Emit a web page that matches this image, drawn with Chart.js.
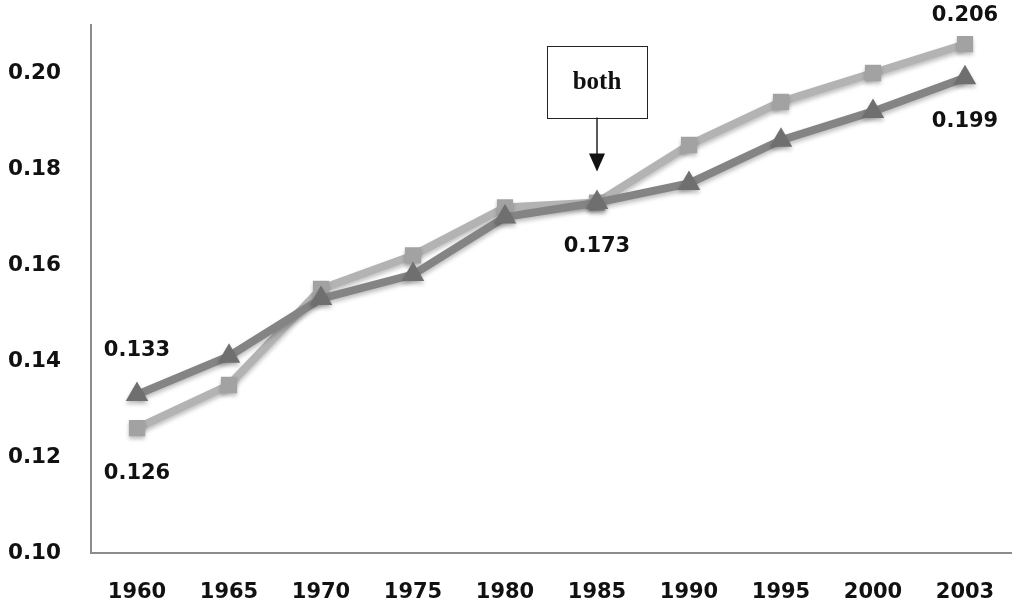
<!DOCTYPE html>
<html>
<head>
<meta charset="utf-8">
<script src="https://cdn.jsdelivr.net/npm/chart.js@4.4.0/dist/chart.umd.min.js"></script>
<style>
html,body{margin:0;padding:0;background:#fff;}
#wrap{width:1024px;height:608px;position:relative;}
</style>
</head>
<body>
<div id="wrap"><canvas id="c" width="1024" height="608"></canvas></div>
<script>
const categories = ['1960','1965','1970','1975','1980','1985','1990','1995','2000','2003'];
const squareValues = [0.126,0.135,0.155,0.162,0.172,0.173,0.185,0.194,0.200,0.206];
const triangleValues = [0.133,0.141,0.153,0.158,0.170,0.173,0.177,0.186,0.192,0.199];
const yTicks = [0.10,0.12,0.14,0.16,0.18,0.20];
const squareLabels = ['0.126',null,null,null,null,null,null,null,null,'0.206'];
const triangleLabels = ['0.133',null,null,null,null,'0.173',null,null,null,'0.199'];
const annotationText = 'both';
const annotationIndex = 5;

const FONT = '"DejaVu Sans", sans-serif';

const labelPlugin = {
  id: 'valueLabels',
  afterDatasetsDraw(chart) {
    const ctx = chart.ctx;
    ctx.save();
    ctx.font = 'bold 21px ' + FONT;
    ctx.fillStyle = '#111';
    ctx.textAlign = 'center';
    ctx.textBaseline = 'middle';
    const sq = chart.getDatasetMeta(1);
    const tr = chart.getDatasetMeta(0);
    squareLabels.forEach((t, i) => {
      if (!t) return;
      const p = sq.data[i];
      const dy = i === 0 ? 45 : -29;
      ctx.fillText(t, p.x, p.y + dy);
    });
    triangleLabels.forEach((t, i) => {
      if (!t) return;
      const p = tr.data[i];
      const dy = i === 0 ? -44 : 44;
      ctx.fillText(t, p.x, p.y + dy);
    });
    // annotation box with arrow
    const p = tr.data[annotationIndex];
    const bw = 100, bh = 72;
    const arrowTip = p.y - 31;
    const boxBottom = p.y - 85;
    const bx = Math.round(p.x - bw / 2), by = Math.round(boxBottom - bh);
    ctx.fillStyle = '#fff';
    ctx.fillRect(bx, by, bw, bh);
    ctx.strokeStyle = '#222';
    ctx.lineWidth = 1;
    ctx.strokeRect(bx + 0.5, by + 0.5, bw, bh);
    ctx.fillStyle = '#111';
    ctx.font = 'bold 25px "Liberation Serif", serif';
    ctx.fillText(annotationText, p.x, by + bh / 2 + 1);
    ctx.beginPath();
    ctx.moveTo(p.x, boxBottom);
    ctx.lineTo(p.x, arrowTip - 14);
    ctx.lineWidth = 1.5;
    ctx.stroke();
    ctx.beginPath();
    ctx.moveTo(p.x - 8, arrowTip - 18);
    ctx.lineTo(p.x + 8, arrowTip - 18);
    ctx.lineTo(p.x, arrowTip);
    ctx.closePath();
    ctx.fill();
    ctx.restore();
  }
};

const shadowPlugin = {
  id: 'pointShadow',
  beforeDatasetDraw(chart, args) {
    const ctx = chart.ctx;
    ctx.save();
    ctx.shadowColor = 'rgba(0,0,0,0.25)';
    ctx.shadowBlur = 4;
    ctx.shadowOffsetY = 3;
  },
  afterDatasetDraw(chart) {
    chart.ctx.restore();
  }
};

const ctx = document.getElementById('c').getContext('2d');
new Chart(ctx, {
  type: 'line',
  data: {
    labels: categories,
    datasets: [
      {
        label: 'triangles',
        data: triangleValues,
        order: 1,
        borderColor: '#848484',
        backgroundColor: '#727272',
        borderWidth: 8,
        pointStyle: 'triangle',
        pointRadius: 13,
        pointBorderWidth: 0,
        pointBackgroundColor: '#6f6f6f',
        tension: 0
      },
      {
        label: 'squares',
        data: squareValues,
        order: 2,
        borderColor: '#b3b3b3',
        backgroundColor: '#a3a3a3',
        borderWidth: 8,
        pointStyle: 'rect',
        pointRadius: 11.5,
        pointBorderWidth: 0,
        pointBackgroundColor: '#a2a2a2',
        tension: 0
      }
    ]
  },
  options: {
    responsive: false,
    animation: false,
    devicePixelRatio: 1,
    layout: { padding: { top: 25, right: 7, left: 0, bottom: 0 } },
    plugins: { legend: { display: false }, tooltip: { enabled: false } },
    scales: {
      x: {
        offset: true,
        grid: { display: false },
        border: { display: true, color: '#8c8c8c', width: 2 },
        ticks: { color: '#111', font: { family: FONT, weight: 'bold', size: 21 }, padding: 19, maxRotation: 0 },
        afterFit(s) { s.height = 55; s.paddingLeft = 0; s.paddingRight = 0; }
      },
      y: {
        min: 0.10,
        max: 0.21,
        grid: { display: false },
        border: { display: true, color: '#8c8c8c', width: 2 },
        afterBuildTicks(s) { s.ticks = yTicks.map(v => ({ value: v })); },
        ticks: {
          color: '#111',
          font: { family: FONT, weight: 'bold', size: 21.5 },
          padding: 22,
          callback: v => Number(v).toFixed(2)
        },
        afterFit(s) { s.width = 91; s.paddingTop = 0; s.paddingBottom = 0; }
      }
    }
  },
  plugins: [shadowPlugin, labelPlugin]
});
</script>
</body>
</html>
